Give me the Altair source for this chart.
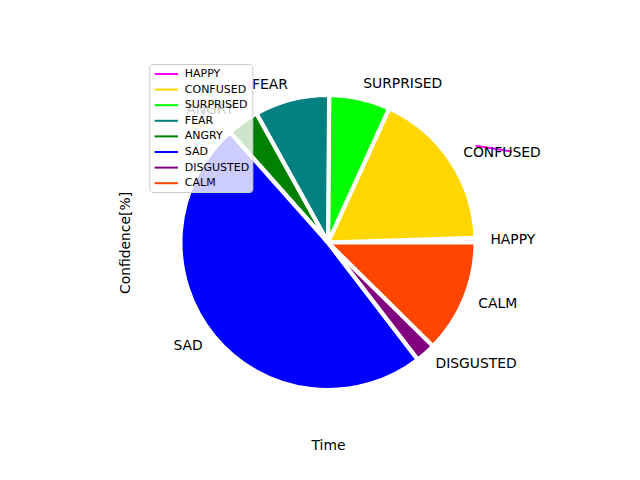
import math
import altair as alt
import pandas as pd

# ---- data ----
emotions = ["HAPPY", "CONFUSED", "SURPRISED", "FEAR", "ANGRY", "SAD", "DISGUSTED", "CALM"]
confidence = [0.5, 17.7, 6.7, 8.2, 3.5, 48.9, 2.2, 12.4]
colors = ["#ff00ff", "#ffd700", "#00ff00", "#008080", "#008000", "#0000ff", "#800080", "#ff4500"]

happy_time = [1.0, 1.25]
happy_conf = [0.656, 0.615]

FONT = "DejaVu Sans"
total = sum(confidence)

df = pd.DataFrame({"emotion": emotions, "value": confidence, "idx": list(range(len(emotions)))})
line_df = pd.DataFrame({"t": happy_time, "c": happy_conf, "emotion": ["HAPPY"] * len(happy_time)})

base = (
    alt.Chart(df)
    .transform_window(cum_end="sum(value)", sort=[alt.SortField("idx")], frame=[None, 0])
    .transform_calculate(
        cum_start="datum.cum_end - datum.value",
        mid="datum.cum_end - datum.value / 2",
    )
    .transform_calculate(right=f"cos(2 * PI * datum.mid / {total}) > 0")
)

theta_scale = alt.Scale(domain=[0, total], range=[2.5 * math.pi, 0.5 * math.pi])

arcs = base.mark_arc(outerRadius=147.6, stroke="white", strokeWidth=4.2).encode(
    theta=alt.Theta("cum_start:Q", scale=theta_scale),
    theta2="cum_end:Q",
    fill=alt.Fill("emotion:N", scale=alt.Scale(domain=emotions, range=colors), legend=None),
)

labels_right = base.transform_filter("datum.right").mark_text(
    radius=162.4, align="left", baseline="middle", font=FONT, fontSize=13.9, color="black"
).encode(
    theta=alt.Theta("mid:Q", scale=theta_scale),
    text="emotion:N",
)

labels_left = base.transform_filter("!datum.right").mark_text(
    radius=162.4, align="right", baseline="middle", font=FONT, fontSize=13.9, color="black"
).encode(
    theta=alt.Theta("mid:Q", scale=theta_scale),
    text="emotion:N",
)

axis_common = dict(labels=False, ticks=False, domain=False, grid=False,
                   titleFont=FONT, titleFontSize=13.9, titleFontWeight="normal", titleColor="black")

line = alt.Chart(line_df).mark_line(strokeWidth=2, clip=True).encode(
    x=alt.X("t:Q", scale=alt.Scale(domain=[-1.25, 1.25], nice=False, zero=False),
            axis=alt.Axis(title="Time", titlePadding=11, **axis_common)),
    y=alt.Y("c:Q", scale=alt.Scale(domain=[-1.25, 1.25], nice=False, zero=False),
            axis=alt.Axis(title="Confidence[%]", titlePadding=11.3, **axis_common)),
    stroke=alt.Stroke(
        "emotion:N",
        scale=alt.Scale(domain=emotions, range=colors),
        legend=alt.Legend(
            title=None, orient="none", legendX=5.8, legendY=6,
            symbolType="M-2,0L2,0", symbolStrokeWidth=2, symbolSize=137,
            symbolOffset=7,
            labelFont=FONT, labelFontSize=11, labelColor="black", labelOffset=11.5,
            fillColor="rgba(255,255,255,0.8)", strokeColor="#cccccc",
            cornerRadius=3, padding=3, rowPadding=3.6,
        ),
    ),
)

chart = alt.layer(line, arcs, labels_right, labels_left).properties(
    width=369,
    height=369,
    autosize=alt.AutoSizeParams(type="none"),
    padding={"left": 143.5, "top": 58, "right": 127.5, "bottom": 53},
    background="white",
).configure_view(stroke=None)

chart.save("out.html", embed_options={"renderer": "svg", "actions": False})
